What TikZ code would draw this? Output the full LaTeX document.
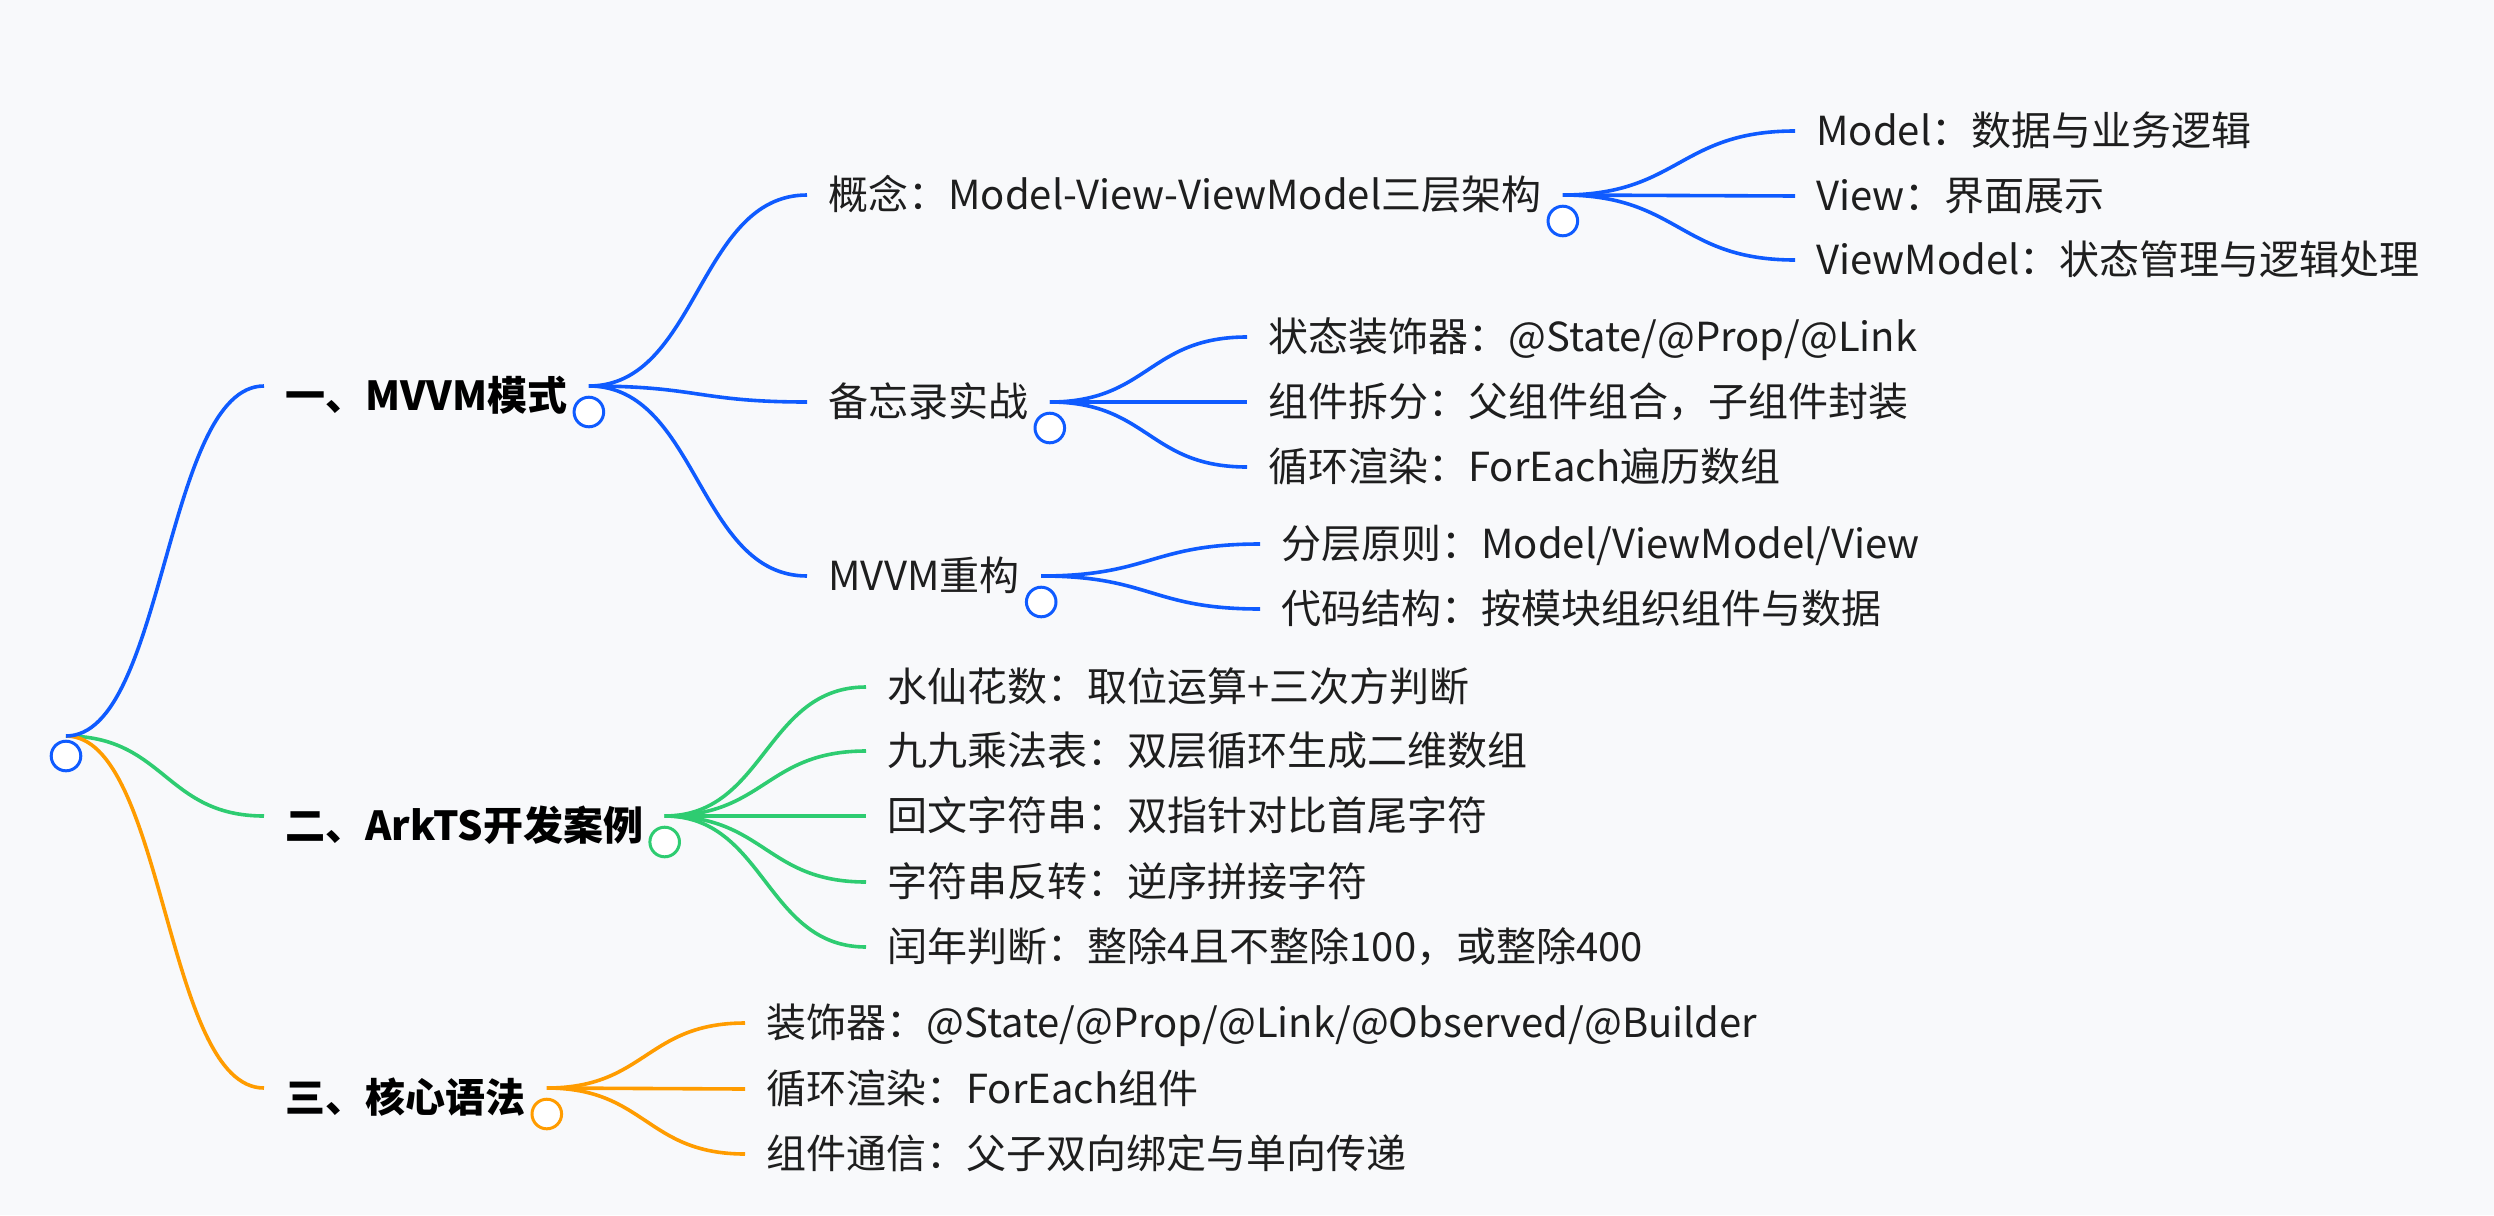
\documentclass[tikz,border=0pt]{standalone}
\usepackage{fontspec}
\setmainfont{Noto Sans CJK SC}
\usepackage{tikz}
\usetikzlibrary{calc}
\definecolor{mapblue}{HTML}{0F5BFF}
\definecolor{mapgreen}{HTML}{2ECC71}
\definecolor{maporange}{HTML}{FF9C00}
\definecolor{mapbg}{HTML}{F8F9FB}
\definecolor{maptext}{HTML}{1E1E1E}
\tikzset{
  mindmap/.style={x=0.5pt,y=-0.5pt},
  topic/.style={anchor=west,inner xsep=10.5pt,inner ysep=0pt,
    text height=17pt,text depth=3pt,text=maptext,
    font=\fontsize{20}{24}\selectfont},
  chapter/.style={topic,text=black,text height=27pt,
    font=\fontsize{20}{24}\selectfont\bfseries},
  branch/.style={line width=1.8pt,
    to path={let \p1=(\tikztostart),\p2=(\tikztotarget) in
      .. controls ({(\x1+\x2)/2},\y1) and ({(\x1+\x2)/2},\y2) .. (\tikztotarget)}},
  fold/.style={circle,draw,line width=1.5pt,fill=white,
    minimum size=14.8pt,inner sep=0pt}}

\begin{document}
\begin{tikzpicture}[mindmap]
  \fill[mapbg] (0,0) rectangle (2494,1215);
  \useasboundingbox (0,0) rectangle (2494,1215);
  \coordinate (root) at (66,736);

  \node[chapter] (mvvm) at (264,386) {一、MVVM模式};
  \node[chapter] (arkts) at (264,816) {二、ArkTS开发案例};
  \node[chapter] (core) at (264,1088) {三、核心语法};

  \node[topic] (concept) at (807,195) {概念：Model-View-ViewModel三层架构};
  \node[topic] (memo) at (807,402) {备忘录实战};
  \node[topic] (refactor) at (807,576) {MVVM重构};

  \node[topic] (model) at (1795,131) {Model：数据与业务逻辑};
  \node[topic] (view) at (1795,196) {View：界面展示};
  \node[topic] (viewmodel) at (1795,260) {ViewModel：状态管理与逻辑处理};

  \node[topic] (state) at (1247,337) {状态装饰器：@State/@Prop/@Link};
  \node[topic] (split) at (1247,402) {组件拆分：父组件组合，子组件封装};
  \node[topic] (render) at (1247,467) {循环渲染：ForEach遍历数组};

  \node[topic] (layer) at (1260,544) {分层原则：Model/ViewModel/View};
  \node[topic] (code) at (1260,609) {代码结构：按模块组织组件与数据};

  \node[topic] (narcissus) at (866,687) {水仙花数：取位运算+三次方判断};
  \node[topic] (table) at (866,751) {九九乘法表：双层循环生成二维数组};
  \node[topic] (palindrome) at (866,816) {回文字符串：双指针对比首尾字符};
  \node[topic] (reverse) at (866,882) {字符串反转：逆序拼接字符};
  \node[topic] (leap) at (866,947) {闰年判断：整除4且不整除100，或整除400};

  \node[topic] (deco) at (745,1023) {装饰器：@State/@Prop/@Link/@Observed/@Builder};
  \node[topic] (foreach) at (745,1089) {循环渲染：ForEach组件};
  \node[topic] (comm) at (745,1154) {组件通信：父子双向绑定与单向传递};

  \draw[branch,mapgreen] (root) to (arkts.west);
  \draw[branch,maporange] (root) to (core.west);
  \draw[branch,mapblue] (root) to (mvvm.west);

  \draw[branch,mapblue] (mvvm.east) to (concept.west);
  \draw[branch,mapblue] (mvvm.east) to (memo.west);
  \draw[branch,mapblue] (mvvm.east) to (refactor.west);

  \draw[branch,mapblue] (concept.east) to (model.west);
  \draw[branch,mapblue] (concept.east) to (view.west);
  \draw[branch,mapblue] (concept.east) to (viewmodel.west);

  \draw[branch,mapblue] (memo.east) to (state.west);
  \draw[branch,mapblue] (memo.east) to (split.west);
  \draw[branch,mapblue] (memo.east) to (render.west);

  \draw[branch,mapblue] (refactor.east) to (layer.west);
  \draw[branch,mapblue] (refactor.east) to (code.west);

  \draw[branch,mapgreen] (arkts.east) to (narcissus.west);
  \draw[branch,mapgreen] (arkts.east) to (table.west);
  \draw[branch,mapgreen] (arkts.east) to (palindrome.west);
  \draw[branch,mapgreen] (arkts.east) to (reverse.west);
  \draw[branch,mapgreen] (arkts.east) to (leap.west);

  \draw[branch,maporange] (core.east) to (deco.west);
  \draw[branch,maporange] (core.east) to (foreach.west);
  \draw[branch,maporange] (core.east) to (comm.west);

  \node[fold,draw=mapblue] (rootfold) at ($(root)+(0,20)$) {};
  \node[fold,draw=mapblue] (mvvmfold) at ($(mvvm.east)+(0,26)$) {};
  \node[fold,draw=mapgreen] (arktsfold) at ($(arkts.east)+(0,26)$) {};
  \node[fold,draw=maporange] (corefold) at ($(core.east)+(0,26)$) {};
  \node[fold,draw=mapblue] (conceptfold) at ($(concept.east)+(0,26)$) {};
  \node[fold,draw=mapblue] (memofold) at ($(memo.east)+(0,26)$) {};
  \node[fold,draw=mapblue] (refactorfold) at ($(refactor.east)+(0,26)$) {};
\end{tikzpicture}
\end{document}
